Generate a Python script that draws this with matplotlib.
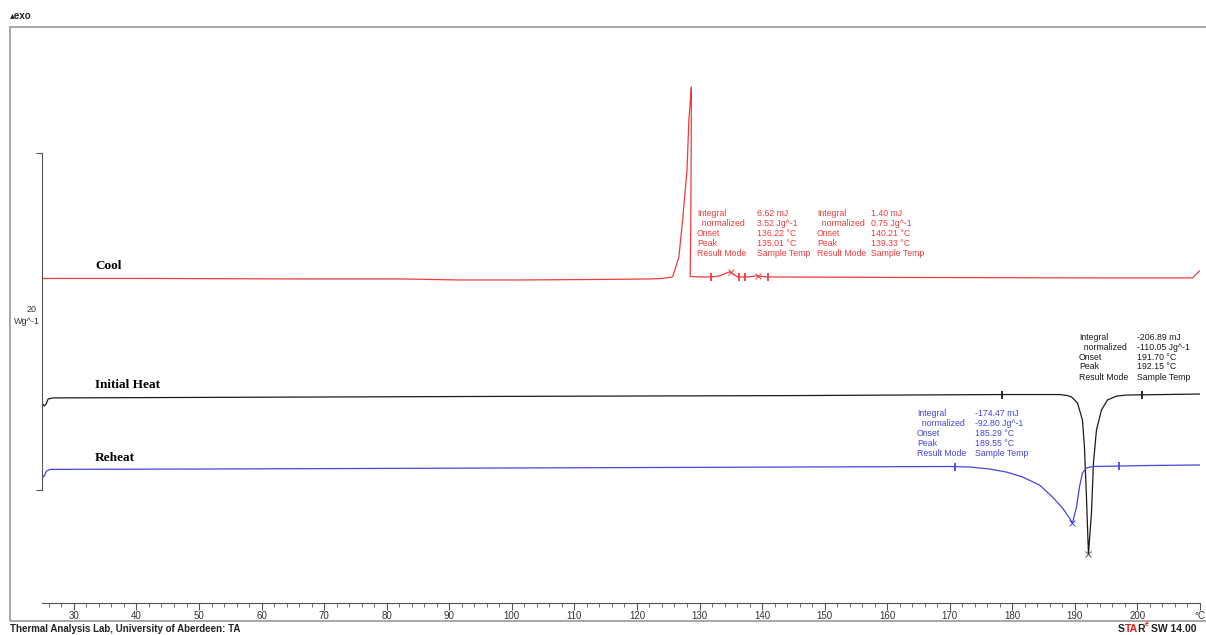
import matplotlib.pyplot as plt
import numpy as np
from matplotlib.patches import Rectangle
from matplotlib.ticker import MultipleLocator

plt.rcParams["font.family"] = ["Liberation Sans", "DejaVu Sans"]

# --- data (T in degC, signal in W/g, offsets as drawn)
cool_T = [24.9, 42.2, 66.1, 82.1, 91.7, 101.3, 114.1, 122.0, 124.1, 125.7,
          126.7, 127.3, 128.0, 128.3, 128.6, 128.7, 128.67, 128.6, 128.5,
          130.0, 131.9, 133.2, 134.8, 136.1, 137.7, 139.1, 140.9, 162.0,
          193.9, 208.8, 209.9]
cool_W = [19.26, 19.26, 19.23, 19.23, 19.17, 19.17, 19.20, 19.23, 19.26, 19.35,
          20.53, 22.73, 25.70, 28.66, 30.15, 30.62, 26.88, 22.14, 19.38,
          19.35, 19.35, 19.41, 19.65, 19.35, 19.35, 19.41, 19.35, 19.32,
          19.29, 19.29, 19.70]

heat_T = [24.9, 25.24, 25.56, 25.88, 26.68, 50.16, 98.08, 146.0, 177.96,
          187.54, 188.82, 189.46, 190.42, 191.21, 191.53, 191.85, 192.17,
          192.65, 192.97, 193.45, 194.25, 195.21, 196.65, 198.24, 209.9]
heat_W = [11.87, 11.69, 11.81, 12.11, 12.17, 12.20, 12.26, 12.31, 12.37,
          12.37, 12.31, 12.23, 11.87, 10.86, 9.26, 6.29, 2.91,
          5.34, 8.31, 10.27, 11.45, 12.05, 12.28, 12.34, 12.40]

reheat_T = [24.9, 25.16, 25.64, 26.2, 50.16, 98.08, 146.0, 169.97, 173.16,
            176.36, 179.07, 181.63, 184.35, 186.42, 188.02, 189.14, 189.62,
            190.26, 190.73, 191.21, 191.85, 192.81, 201.92, 209.9]
reheat_W = [7.60, 7.48, 7.83, 7.93, 7.95, 8.01, 8.07, 8.10, 8.07,
            7.95, 7.77, 7.48, 7.00, 6.29, 5.64, 5.04, 4.75,
            5.70, 6.88, 7.72, 8.01, 8.10, 8.16, 8.19]

# evaluation limits and peaks
cool_limits = [131.9, 136.3, 137.2, 140.9]
cool_peaks = [135.01, 139.33]
cool_peak_W = [19.65, 19.41]
heat_limits = [178.3, 200.8]
heat_peak = 192.15
reheat_limits = [170.8, 197.1]
reheat_peak = 189.55

res_labels = ["Integral", "  normalized", "Onset", "Peak", "Result Mode"]
cool_res1 = ["6.62 mJ", "3.52 Jg^-1", "136.22 °C", "135.01 °C", "Sample Temp"]
cool_res2 = ["1.40 mJ", "0.75 Jg^-1", "140.21 °C", "139.33 °C", "Sample Temp"]
heat_res = ["-206.89 mJ", "-110.05 Jg^-1", "191.70 °C", "192.15 °C", "Sample Temp"]
reheat_res = ["-174.47 mJ", "-92.80 Jg^-1", "185.29 °C", "189.55 °C", "Sample Temp"]

x_ticks = list(range(30, 210, 10))
x_labels = [str(t) for t in x_ticks]

RED = "#ee3b3b"
BLUE = "#4545e0"
BLACK = "#1a1a1a"
W, H = 1206, 635


def fpos(px, py):
    return px / W, 1 - py / H


def result_block(fig, px_lab, px_val, py0, values, color):
    for i, (lab, val) in enumerate(zip(res_labels, values)):
        y = py0 + i * 10
        fig.text(*fpos(px_lab, y), lab, color=color, fontsize=6.3,
                 va="center", ha="left")
        fig.text(*fpos(px_val, y), val, color=color, fontsize=6.3,
                 va="center", ha="left")


def run():
    fig = plt.figure(figsize=(W / 100, H / 100), dpi=100)
    ax = fig.add_axes([42 / W, 32 / H, 1158 / W, 563 / H])
    ax.set_xlim(24.9, 210)
    ax.set_ylim(0, 33.41)

    ax.plot(cool_T, cool_W, color=RED, lw=0.9)
    ax.plot(heat_T, heat_W, color=BLACK, lw=0.9)
    ax.plot(reheat_T, reheat_W, color=BLUE, lw=0.9)

    # limits and peak markers
    ax.plot(cool_limits, np.interp(cool_limits, cool_T[20:], cool_W[20:]),
            ls="none", marker="|", ms=6, mew=1.3, color=RED)
    ax.plot(heat_limits, np.interp(heat_limits, heat_T, heat_W),
            ls="none", marker="|", ms=6, mew=1.3, color=BLACK)
    ax.plot(reheat_limits, np.interp(reheat_limits, reheat_T, reheat_W),
            ls="none", marker="|", ms=6, mew=1.3, color=BLUE)
    ax.plot(cool_peaks, cool_peak_W, ls="none", marker="x", ms=4,
            mew=0.7, color=RED)
    ax.plot([heat_peak], [min(heat_W)], ls="none", marker="x", ms=5,
            mew=0.7, color="#555555")
    ax.plot([reheat_peak], [min(reheat_W)], ls="none", marker="x", ms=5,
            mew=0.7, color=BLUE)

    # axes styling
    for s in ["top", "right"]:
        ax.spines[s].set_visible(False)
    ax.spines["bottom"].set_color("#555555")
    ax.spines["left"].set_color("#555555")
    y_lo, y_hi = (603 - 490) / 16.85, (603 - 153) / 16.85
    ax.spines["left"].set_bounds(y_lo, y_hi)
    ax.set_yticks([y_lo, y_hi])
    ax.set_yticklabels([])
    ax.tick_params(axis="y", length=4, color="#555555")

    ax.set_xticks(x_ticks + [210])
    ax.set_xticklabels(x_labels + ["°C"])
    ax.xaxis.set_minor_locator(MultipleLocator(2))
    ax.tick_params(axis="x", which="major", length=5, color="#555555",
                   labelsize=7, labelcolor="#333333", pad=1)
    ax.tick_params(axis="x", which="minor", length=3, color="#555555")

    # scale label
    fig.text(*fpos(37, 310), "20", fontsize=6.5, color="#333333",
             ha="right", va="center")
    fig.text(*fpos(40, 322), "Wg^-1", fontsize=6.5, color="#333333",
             ha="right", va="center")

    # curve names
    for name, py in [("Cool", 266), ("Initial Heat", 385), ("Reheat", 458)]:
        fig.text(*fpos(95, py), name, fontsize=9.5, fontweight="bold",
                 family="Liberation Serif", va="center", ha="left")

    # result boxes
    result_block(fig, 697, 757, 214, cool_res1, RED)
    result_block(fig, 817, 871, 214, cool_res2, RED)
    result_block(fig, 1079, 1137, 337, heat_res, BLACK)
    result_block(fig, 917, 975, 414, reheat_res, BLUE)

    # frame, header, footer
    fig.patches.append(Rectangle(fpos(10, 621), 1210 / W, 594 / H,
                                 transform=fig.transFigure, fill=False,
                                 ec="#a0a0a0", lw=1.3))
    fig.text(*fpos(10, 16), "\u25b4exo", fontsize=7, fontweight="bold",
             va="center", ha="left", color="#222222")
    fig.text(*fpos(10, 629), "Thermal Analysis Lab, University of Aberdeen: TA",
             fontsize=7, fontweight="bold", va="center", ha="left",
             color="#222222")
    for part, px, py, fs, c in [("S", 1118, 629, 7.5, "#222222"),
                                ("TA", 1125, 629, 7.5, "#e02020"),
                                ("R", 1137, 629, 7.5, "#222222"),
                                ("e", 1144.5, 625, 5, "#e02020"),
                                ("SW 14.00", 1151, 629, 7.5, "#222222")]:
        fig.text(*fpos(px, py), part, fontsize=fs, fontweight="bold",
                 va="center", ha="left", color=c)

    fig.savefig("out.png", dpi=100, facecolor="white")


if __name__ == "__main__":
    run()
